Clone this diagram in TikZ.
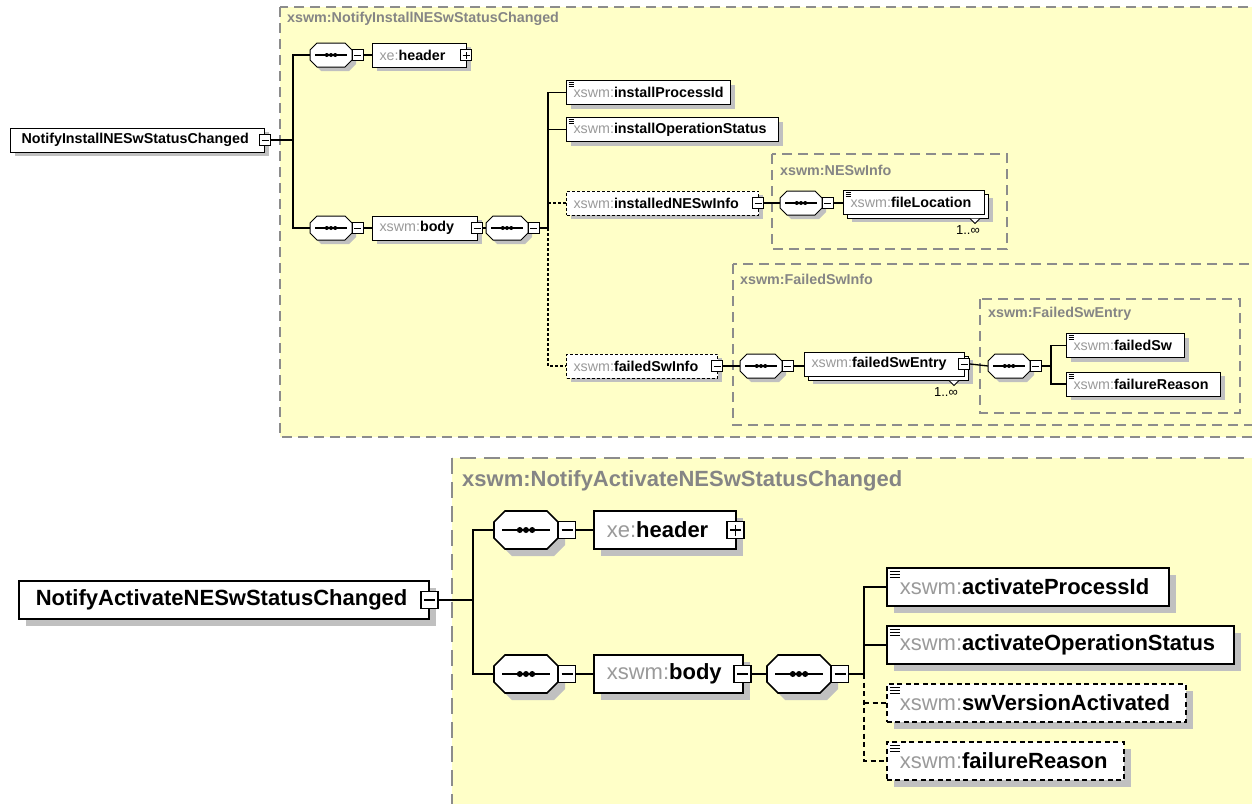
\documentclass[tikz,border=0pt]{standalone}
\usepackage{fontspec}
\setmainfont{Liberation Sans}
\usetikzlibrary{shadows}

\definecolor{grpfill}{HTML}{FFFFC8}
\definecolor{grpline}{HTML}{8C8C8C}
\definecolor{pfx}{HTML}{9A9A9A}
\definecolor{ttl}{HTML}{858585}
\definecolor{shd}{HTML}{C0C0C0}

\newcommand\smallfnt{\fontsize{14.3}{16}\selectfont}
\newcommand\bigfnt{\fontsize{22}{25}\selectfont}
\newcommand\qn[2]{{\mdseries\color{pfx}#1:}\textbf{#2}}
% octagon of width #1, half height #2, corner cut #3, from its west point
\newcommand\octo[3]{(0,-#2+#3) -- (#3,-#2) -- (#1-#3,-#2) -- (#1,-#2+#3) -- (#1,#2-#3) -- (#1-#3,#2) -- (#3,#2) -- (0,#2-#3) -- cycle}

\tikzset{
	grp/.style={draw=grpline, fill=grpfill, line width=1.2pt, dash pattern=on 10pt off 6pt},
	Grp/.style={grp, line width=1.6pt, dash pattern=on 16pt off 8pt},
	grptitle/.style={anchor=west, inner sep=0pt, text=ttl, font=\smallfnt\bfseries},
	Grptitle/.style={grptitle, font=\bigfnt\bfseries},
	elbase/.style={draw, fill=white, anchor=west, inner ysep=0pt, align=left},
	el/.style={elbase, line width=1pt, inner xsep=7pt, minimum height=24pt, font=\smallfnt,
		general shadow={fill=shd, shadow xshift=4pt, shadow yshift=-4pt}},
	El/.style={elbase, line width=1.6pt, inner xsep=13pt, minimum height=38pt, font=\bigfnt,
		general shadow={fill=shd, shadow xshift=7pt, shadow yshift=-7pt}},
	rep/.style={elbase, line width=1pt, inner xsep=7pt, minimum height=24pt, font=\smallfnt,
		general shadow={fill=shd, shadow xshift=8pt, shadow yshift=-8pt},
		copy shadow={shadow xshift=4pt, shadow yshift=-4pt}},
	opt/.style={dash pattern=on 3pt off 2pt},
	Opt/.style={dash pattern=on 5pt off 3.5pt},
	simple/.style={path picture={\foreach \k in {0,2,4}
		\draw[solid, line width=.7pt] ([shift={(2,2+\k)}]path picture bounding box.north west) -- ++(5,0);}},
	Simple/.style={path picture={\foreach \k in {0,3,6}
		\draw[solid, line width=1.2pt] ([shift={(3,3.5+\k)}]path picture bounding box.north west) -- ++(10,0);}},
	minus/.style={draw, fill=white, line width=.8pt, minimum size=11pt, inner sep=0pt,
		path picture={\draw[line width=.8pt] ([xshift=2pt]path picture bounding box.west) -- ([xshift=-2pt]path picture bounding box.east);}},
	plus/.style={minus,
		path picture={\draw[line width=.8pt] ([xshift=2pt]path picture bounding box.west) -- ([xshift=-2pt]path picture bounding box.east);
			\draw[line width=.8pt] ([yshift=2pt]path picture bounding box.south) -- ([yshift=-2pt]path picture bounding box.north);}},
	Minus/.style={minus, line width=1.3pt, minimum size=17pt,
		path picture={\draw[line width=1.3pt] ([xshift=3pt]path picture bounding box.west) -- ([xshift=-3pt]path picture bounding box.east);}},
	Plus/.style={minus, line width=1.3pt, minimum size=17pt,
		path picture={\draw[line width=1.3pt] ([xshift=3pt]path picture bounding box.west) -- ([xshift=-3pt]path picture bounding box.east);
			\draw[line width=1.3pt] ([yshift=3pt]path picture bounding box.south) -- ([yshift=-3pt]path picture bounding box.north);}},
	mult/.style={anchor=north east, inner sep=0pt, font=\fontsize{13}{14}\selectfont},
	conn/.style={line width=1.3pt},
	Conn/.style={line width=2pt},
	% sequence compositor with its button
	pics/seq/.style={code={
		\node[inner sep=0pt, minimum width=42pt, minimum height=24pt, anchor=west] (-s) at (0,0) {};
		\fill[shd, shift={(4,4)}] \octo{42}{12}{7};
		\draw[fill=white, line width=1pt] \octo{42}{12}{7};
		\draw[line width=1.3pt] (5,0) -- (37,0);
		\foreach \k in {-4.2,0,4.2} \fill (21+\k,0) circle (2);
		\node[minus, anchor=west] (-b) at (42,0) {};
	}},
	pics/Seq/.style={code={
		\node[inner sep=0pt, minimum width=64pt, minimum height=38pt, anchor=west] (-s) at (0,0) {};
		\fill[shd, shift={(7,7)}] \octo{64}{19}{11};
		\draw[fill=white, line width=1.6pt] \octo{64}{19}{11};
		\draw[line width=2pt] (8,0) -- (56,0);
		\foreach \k in {-6.2,0,6.2} \fill (32+\k,0) circle (3);
		\node[Minus, anchor=west] (-b) at (64,0) {};
	}}
}

\begin{document}
\begin{tikzpicture}[x=1pt, y=-1pt]

	\useasboundingbox (0,0) rectangle (1252,803);
	\fill[white] (0,0) rectangle (1252,803);
	\clip (0,0) rectangle (1252,803);

	% Install: groups
	\draw[grp] (280,7) rectangle (1262,437);
	\node[grptitle] (t1) at (287,19) {xswm:NotifyInstallNESwStatusChanged};
	\draw[grp] (772,154) rectangle (1007,249);
	\node[grptitle] (t2) at (780,170) {xswm:NESwInfo};
	\draw[grp] (733,264) rectangle (1262,425);
	\node[grptitle] (t3) at (740,279) {xswm:FailedSwInfo};
	\draw[grp] (980,299) rectangle (1240,413);
	\node[grptitle] (t4) at (988,314) {xswm:FailedSwEntry};

	% Install: root, header, body
	\node[el, inner xsep=11pt, text width=232pt] (iroot) at (10,140) {\textbf{NotifyInstallNESwStatusChanged}};
	\node[minus] (irootb) at (iroot.east) {};
	\pic (iseq1) at (310,55) {seq};
	\node[el, text width=80pt] (ihead) at (372,55) {\qn{xe}{header}};
	\node[plus] (iheadb) at ([xshift=-1pt]ihead.east) {};
	\pic (iseq2) at (310,228) {seq};
	\node[el, text width=91pt] (ibody) at (372,228) {\qn{xswm}{body}};
	\node[minus] (ibodyb) at ([xshift=-1pt]ibody.east) {};
	\pic (iseq3) at (486,228) {seq};

	% Install: body children
	\node[el, simple, text width=150pt] (ipid) at (566,92.5) {\qn{xswm}{installProcessId}};
	\node[el, simple, text width=198pt] (iops) at (566,129.5) {\qn{xswm}{installOperationStatus}};
	\node[el, opt, text width=178pt] (inesw) at (566,203) {\qn{xswm}{installedNESwInfo}};
	\node[minus] (ineswb) at ([xshift=-1pt]inesw.east) {};
	\node[el, opt, text width=137pt] (ifsi) at (566,366) {\qn{xswm}{failedSwInfo}};
	\node[minus] (ifsib) at ([xshift=-1pt]ifsi.east) {};

	% NESwInfo
	\pic (nseq) at (780,203) {seq};
	\node[rep, simple, text width=127pt] (floc) at (843,202) {\qn{xswm}{fileLocation}};
	\draw[fill=white, line width=.8pt] ([xshift=-15pt, yshift=-4pt]floc.south east) -- ++(5,5) -- ++(5,-5);
	\node[mult] (flocm) at ([xshift=-5pt, yshift=-11pt]floc.south east) {1..∞};

	% FailedSwInfo
	\pic (fseq) at (740,366) {seq};
	\node[rep, text width=146pt] (fent) at (804,364) {\qn{xswm}{failedSwEntry}};
	\node[minus] (fentb) at ([xshift=-1pt]fent.east) {};
	\draw[fill=white, line width=.8pt] ([xshift=-16pt, yshift=-4pt]fent.south east) -- ++(5,5) -- ++(5,-5);
	\node[mult] (fentm) at ([xshift=-7pt, yshift=-11pt]fent.south east) {1..∞};
	\pic (eseq) at (988,366) {seq};
	\node[el, simple, text width=104pt] (fsw) at (1066,345.5) {\qn{xswm}{failedSw}};
	\node[el, simple, text width=140pt] (frs) at (1066,384) {\qn{xswm}{failureReason}};

	% Install: connectors
	\coordinate (it) at (293,140);
	\draw[conn] (irootb.east) -- (it) |- (iseq1-s.west);
	\draw[conn] (it) |- (iseq2-s.west);
	\draw[conn] (iseq1-b.east) -- (ihead.west);
	\draw[conn] (iseq2-b.east) -- (ibody.west);
	\draw[conn] (ibodyb.east) -- (iseq3-s.west);
	\coordinate (iv) at (548,228);
	\draw[conn] (iseq3-b.east) -- (iv) |- (ipid.west);
	\draw[conn] (iv) |- (iops.west);
	\draw[conn, opt] (iv |- inesw.west) -- (inesw.west);
	\draw[conn, opt] (iv) |- (ifsi.west);
	\draw[conn] (ineswb.east) -- (nseq-s.west);
	\draw[conn] (nseq-b.east) -- (nseq-b.east -| floc.west);
	\draw[conn] (ifsib.east) -- (fseq-s.west);
	\draw[conn] (fseq-b.east) -- (fseq-b.east -| fent.west);
	\draw[conn] (fentb.east) -- (eseq-s.west);
	\coordinate (ev) at (1051,366);
	\draw[conn] (eseq-b.east) -- (ev) |- (fsw.west);
	\draw[conn] (ev) |- (frs.west);

	% Activate: group
	\draw[Grp] (452,458) rectangle (1262,812);
	\node[Grptitle] (t5) at (462,481) {xswm:NotifyActivateNESwStatusChanged};

	% Activate: root, header, body
	\node[El, inner xsep=17pt, text width=376pt] (aroot) at (18,600) {\textbf{NotifyActivateNESwStatusChanged}};
	\node[Minus] (arootb) at (aroot.east) {};
	\pic (aseq1) at (494,530) {Seq};
	\node[El, text width=116pt] (ahead) at (593,530) {\qn{xe}{header}};
	\node[Plus] (aheadb) at ([xshift=-1pt]ahead.east) {};
	\pic (aseq2) at (494,674) {Seq};
	\node[El, text width=123pt] (abody) at (593,674) {\qn{xswm}{body}};
	\node[Minus] (abodyb) at ([xshift=-1pt]abody.east) {};
	\pic (aseq3) at (767,674) {Seq};

	% Activate: body children
	\node[El, Simple, text width=256pt] (apid) at (886,587) {\qn{xswm}{activateProcessId}};
	\node[El, Simple, text width=321pt] (aops) at (886,645) {\qn{xswm}{activateOperationStatus}};
	\node[El, Simple, Opt, text width=273pt] (aswv) at (886,703) {\qn{xswm}{swVersionActivated}};
	\node[El, Simple, Opt, text width=211pt] (afr) at (886,761) {\qn{xswm}{failureReason}};

	% Activate: connectors
	\coordinate (at) at (473,600);
	\draw[Conn] (arootb.east) -- (at) |- (aseq1-s.west);
	\draw[Conn] (at) |- (aseq2-s.west);
	\draw[Conn] (aseq1-b.east) -- (ahead.west);
	\draw[Conn] (aseq2-b.east) -- (abody.west);
	\draw[Conn] (abodyb.east) -- (aseq3-s.west);
	\coordinate (av) at (864,674);
	\draw[Conn] (aseq3-b.east) -- (av) |- (apid.west);
	\draw[Conn] (av) |- (aops.west);
	\draw[Conn, Opt] (av |- aswv.west) -- (aswv.west);
	\draw[Conn, Opt] (av) |- (afr.west);
\end{tikzpicture}
\end{document}
